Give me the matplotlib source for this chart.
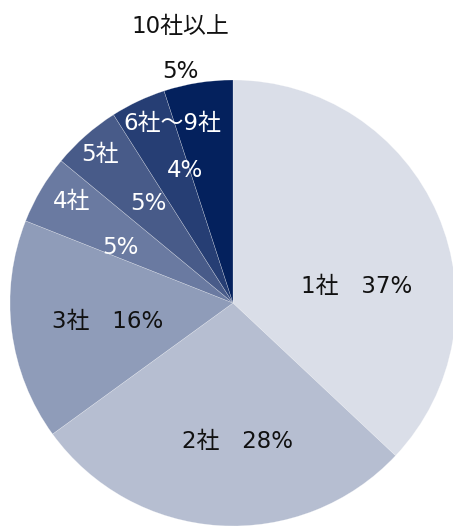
import matplotlib
matplotlib.use("Agg")
import matplotlib.pyplot as plt

plt.rcParams['font.family'] = ['DejaVu Sans', 'Noto Sans CJK JP']

categories = ["1社", "2社", "3社", "4社", "5社", "6社～9社", "10社以上"]
values = [37, 28, 16, 5, 5, 4, 5]
colors = ["#dadee8", "#b6bed1", "#8f9cb9", "#6a7aa1", "#485b89", "#263e74", "#04215d"]

# label layout in pie data units (radius = 1)
name_pos = [(0.556, 0.076), (0.022, -0.619), (-0.561, -0.081), (-0.722, 0.453),
            (-0.596, 0.664), (-0.274, 0.807), (-0.238, 1.238)]
pct_pos = [None, None, None, (-0.507, 0.247), (-0.381, 0.448), (-0.215, 0.596), (-0.238, 1.036)]
text_colors = ["#111111", "#111111", "#111111", "white", "white", "white", "#111111"]

W, H = 453, 526
fig = plt.figure(figsize=(W / 100, H / 100), dpi=100)
ax = fig.add_axes([0, 0, 1, 1])
cx, cy, r = 233, 303, 223

wedges, _ = ax.pie(values, colors=colors, startangle=90, counterclock=False,
                   wedgeprops=dict(edgecolor=(1, 1, 1, 0.5), linewidth=0.3))

fs = 16.5
for i, cat in enumerate(categories):
    if pct_pos[i] is None:
        x, y = name_pos[i]
        ax.text(x, y, f"{cat}\u3000{values[i]}%", ha="center", va="center",
                fontsize=fs, color=text_colors[i])
    else:
        x, y = name_pos[i]
        ax.text(x, y, cat, ha="center", va="center", fontsize=fs, color=text_colors[i])
        x, y = pct_pos[i]
        ax.text(x, y, f"{values[i]}%", ha="center", va="center", fontsize=fs, color=text_colors[i])

ax.set_aspect("auto")
ax.set_xlim(-cx / r, (W - cx) / r)
ax.set_ylim(-(H - cy) / r, cy / r)
ax.axis("off")
fig.savefig("out.png", dpi=100)
